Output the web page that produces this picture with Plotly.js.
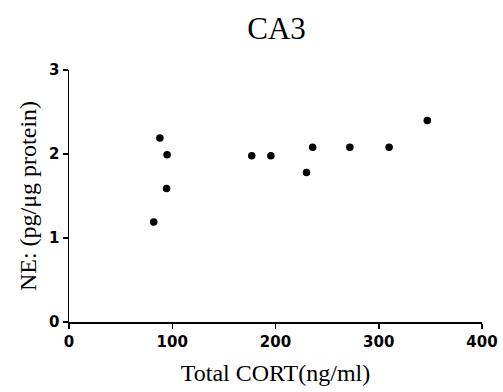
<!DOCTYPE html>
<html>
<head>
<meta charset="utf-8">
<script src="https://cdn.plot.ly/plotly-3.0.1.min.js"></script>
<style>html,body{margin:0;padding:0;background:#fff;}#chart{width:503px;height:392px;}</style>
</head>
<body>
<div id="chart"></div>
<script>
// Data
const cortValues = [82, 88, 95, 94.5, 177, 195.5, 230, 236, 272, 310, 347];
const neValues = [1.19, 2.19, 1.99, 1.59, 1.98, 1.98, 1.78, 2.08, 2.08, 2.08, 2.40];
const xTickValues = [0, 100, 200, 300, 400];
const yTickValues = [0, 1, 2, 3];

const trace = {
  x: cortValues,
  y: neValues,
  type: 'scatter',
  mode: 'markers',
  marker: {color: '#000', size: 7.5, symbol: 'circle'},
  cliponaxis: false,
  showlegend: false
};

const tickFont = {family: 'DejaVu Sans, Liberation Sans, sans-serif', size: 15, color: '#000', weight: 'bold'};
const titleFont = {family: 'Liberation Serif, Times New Roman, serif', size: 24, color: '#000'};

const layout = {
  width: 503,
  height: 392,
  margin: {l: 69, r: 21, t: 70, b: 70},
  paper_bgcolor: '#fff',
  plot_bgcolor: '#fff',
  title: {
    text: 'CA3',
    font: {family: 'Liberation Serif, Times New Roman, serif', size: 31, color: '#000'},
    x: 276.5/503, xanchor: 'center', xref: 'container',
    y: 1 - 28/392, yanchor: 'middle', yref: 'container'
  },
  xaxis: {
    range: [0, 400],
    tickvals: xTickValues,
    ticktext: xTickValues.map(String),
    ticks: 'outside', ticklen: 5, tickwidth: 1.5, tickcolor: '#000',
    showline: true, linecolor: '#000', linewidth: 2,
    showgrid: false, zeroline: false,
    tickfont: tickFont,
    title: {text: 'Total CORT(ng/ml)', font: titleFont, standoff: 14}
  },
  yaxis: {
    range: [0, 3],
    tickvals: yTickValues,
    ticktext: yTickValues.map(String),
    ticks: 'outside', ticklen: 5, tickwidth: 1.5, tickcolor: '#000',
    showline: true, linecolor: '#000', linewidth: 1.5,
    showgrid: false, zeroline: false,
    tickfont: tickFont,
    title: {text: 'NE: (pg/μg protein)', font: titleFont, standoff: 5}
  }
};

Plotly.newPlot('chart', [trace], layout, {staticPlot: true, displayModeBar: false});
</script>
</body>
</html>
